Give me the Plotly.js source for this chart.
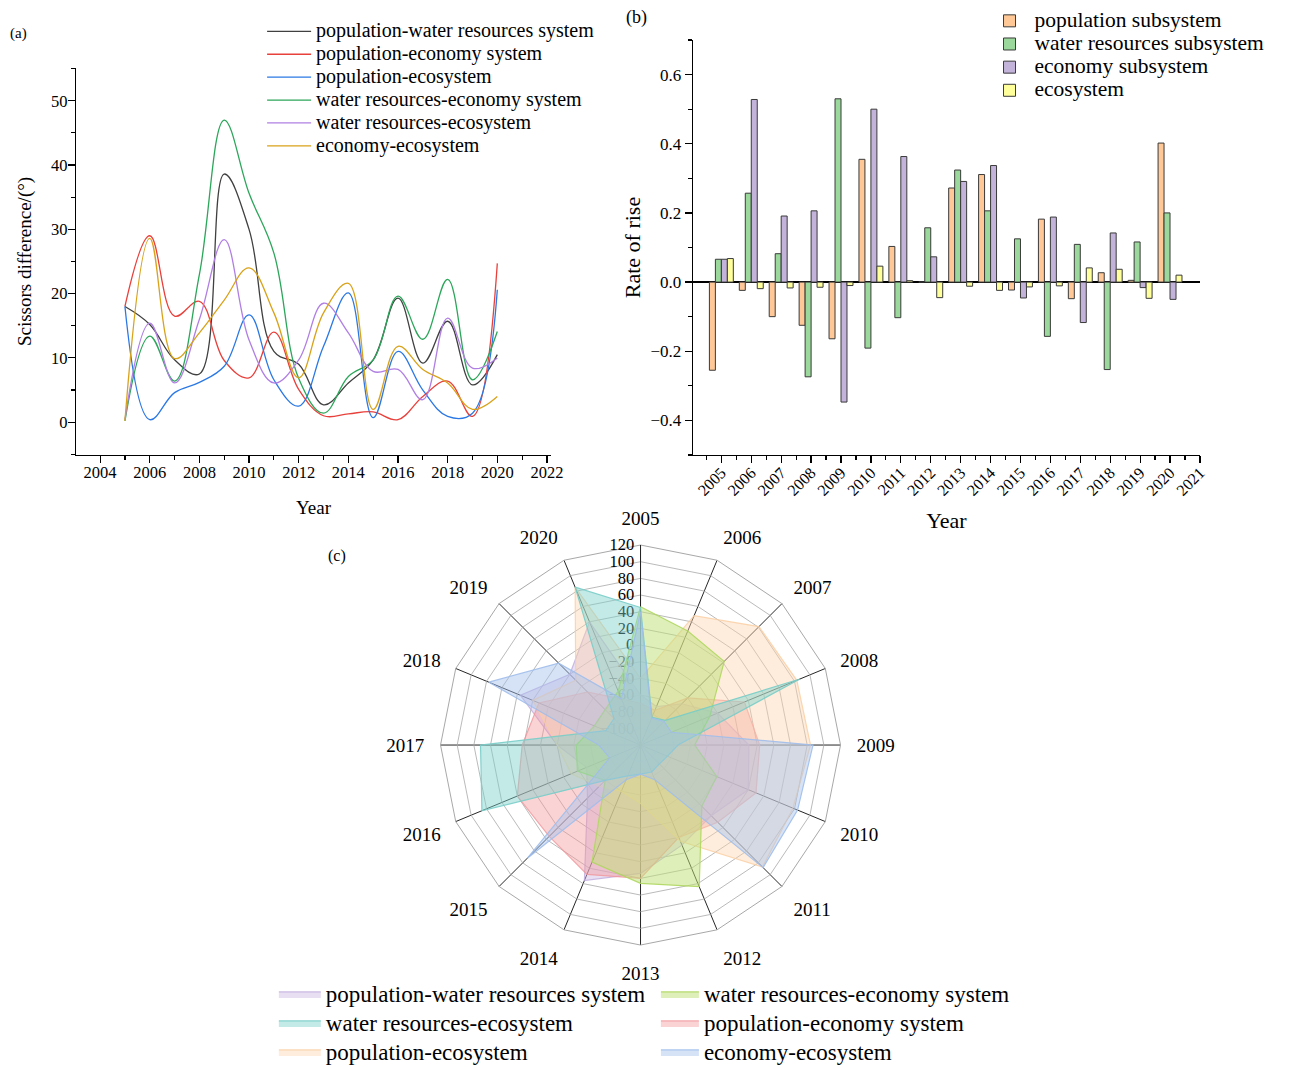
<!DOCTYPE html>
<html>
<head>
<meta charset="utf-8">
<script src="https://cdn.plot.ly/plotly-3.0.1.min.js"></script>
<style>html,body{margin:0;padding:0;background:#fff;}#chart{width:1304px;height:1067px;}</style>
</head>
<body>
<div id="chart"></div>
<script>
// ---------- Panel (a): scissors difference ----------
const years = [2005,2006,2007,2008,2009,2010,2011,2012,2013,2014,2015,2016,2017,2018,2019,2020];
const lineNames = ["population-water resources system","population-economy system","population-ecosystem","water resources-economy system","water resources-ecosystem","economy-ecosystem"];
const popWater  = [18.0,15.2,9.7,7.5,38.6,30.0,11.0,9.0,2.7,6.1,9.7,19.3,9.2,15.7,5.8,10.5];
const popEcon   = [18.0,29.0,16.5,18.8,9.6,6.9,14.0,5.1,1.0,1.3,1.6,0.4,4.0,6.4,0.9,24.7];
const popEco    = [18.0,0.4,4.6,6.2,8.7,16.7,6.6,2.5,11.8,20.1,0.7,11.0,5.0,0.9,1.4,20.6];
const waterEcon = [0.2,13.4,6.4,23.0,47.0,35.6,26.3,6.8,1.4,7.1,9.7,19.6,12.9,22.2,6.6,14.1];
const waterEco  = [0.4,15.4,6.1,16.0,28.4,12.8,6.1,9.7,18.5,13.9,7.9,8.2,3.5,16.2,8.4,10.0];
const econEco   = [0.2,28.6,9.9,13.9,19.0,24.0,17.0,6.9,17.0,21.6,2.0,11.8,8.2,6.1,2.0,4.0];
const lineColors = ["#404040","#e8413c","#2b78e4","#2ca65a","#b07fe3","#d8a21a"];

// ---------- Panel (b): rate of rise ----------
const barYears = years;
const barNames = ["population subsystem","water resources subsystem","economy subsystem","ecosystem"];
const popSub   = [-0.255,-0.024,-0.100,-0.125,-0.164,0.355,0.103,0.000,0.272,0.311,-0.023,0.182,-0.048,0.027,0.005,0.402];
const waterSub = [0.066,0.257,0.082,-0.274,0.530,-0.191,-0.103,0.157,0.324,0.206,0.125,-0.157,0.109,-0.253,0.116,0.200];
const econSub  = [0.066,0.528,0.191,0.206,-0.347,0.500,0.363,0.073,0.291,0.337,-0.046,0.188,-0.117,0.142,-0.016,-0.050];
const ecoSub   = [0.068,-0.019,-0.017,-0.015,-0.010,0.046,0.004,-0.045,-0.012,-0.024,-0.014,-0.011,0.041,0.037,-0.047,0.020];
const barColors = ["#ffc896","#9ad99b","#c3b3da","#ffff9c"];

// ---------- Panel (c): radar ----------
const radarYears = years.map(String);
const rPopWater  = [-60,-70,-50,-20,10,20,0,10,34,56,-30,-50,-20,36,0,40];
const rPopEcon   = [-70,-75,-40,15,23,30,11,0,40,48,35,40,22,12,-30,-60];
const rPopEco    = [-40,48,81,83,84,78,87,5,-50,-60,-50,-30,-20,20,-10,85];
const rWaterEcon = [46,28,22,-30,-55,-21,-16,64,46,32,-60,-38,-43,-60,-60,-50];
const rWaterEco  = [45,-84,-78,87,-75,-85,-88,-85,-85,-80,-60,86,72,-75,-75,85];
const rEconEco   = [40,-85,-80,-80,87,84,88,-75,-85,-75,72,-80,-70,77,19,-60];
const radarColors = {
  popWater:  ["rgba(205,185,228,0.45)","rgba(190,170,220,0.8)"],
  popEcon:   ["rgba(242,150,155,0.42)","rgba(240,150,155,0.8)"],
  popEco:    ["rgba(252,212,172,0.42)","rgba(250,205,160,0.8)"],
  waterEcon: ["rgba(192,224,118,0.50)","rgba(175,215,95,0.9)"],
  waterEco:  ["rgba(125,208,204,0.45)","rgba(120,205,200,0.9)"],
  econEco:   ["rgba(165,192,236,0.45)","rgba(160,190,235,0.9)"]
};

const FONT = "Liberation Serif, Times New Roman, serif";
const traces = [];

// lines
[popWater,popEcon,popEco,waterEcon,waterEco,econEco].forEach((vals,i)=>{
  traces.push({
    type:"scatter", mode:"lines", x:years, y:vals, xaxis:"x", yaxis:"y",
    name:'<span style="font-size:20px">'+lineNames[i]+'</span>',
    line:{color:lineColors[i], width:1.3, shape:"spline", smoothing:1.1},
    legend:"legend", hoverinfo:"x+y"
  });
});

// bars
[popSub,waterSub,econSub,ecoSub].forEach((vals,i)=>{
  traces.push({
    type:"bar", x:barYears, y:vals, xaxis:"x2", yaxis:"y2",
    name:'<span style="font-size:21.5px">'+barNames[i]+'</span>',
    marker:{color:barColors[i], line:{color:"#3a3a3a", width:1}},
    legend:"legend2"
  });
});

// radar
function closed(a){ return a.concat([a[0]]); }
const radarSeries = [
  {key:"popWater",  vals:rPopWater,  name:"population-water resources system", leg:"legend3", rank:1},
  {key:"popEcon",   vals:rPopEcon,   name:"population-economy system",         leg:"legend4", rank:2},
  {key:"popEco",    vals:rPopEco,    name:"population-ecosystem",              leg:"legend3", rank:3},
  {key:"waterEcon", vals:rWaterEcon, name:"water resources-economy system",    leg:"legend4", rank:1},
  {key:"waterEco",  vals:rWaterEco,  name:"water resources-ecosystem",         leg:"legend3", rank:2},
  {key:"econEco",   vals:rEconEco,   name:"economy-ecosystem",                 leg:"legend4", rank:3}
];
radarSeries.forEach(s=>{
  traces.push({
    type:"scatterpolar", subplot:"polar", mode:"lines", fill:"toself",
    r:closed(s.vals), theta:closed(radarYears),
    name:'<span style="font-size:23px">'+s.name+'</span>',
    fillcolor:radarColors[s.key][0],
    line:{color:radarColors[s.key][1], width:1.2},
    legend:s.leg, legendrank:s.rank
  });
});

const minorB = [];
for (let v = 2004.5; v < 2021; v += 1) minorB.push(v);

const layout = {
  width:1304, height:1067,
  margin:{l:0,r:0,t:0,b:0, autoexpand:false},
  paper_bgcolor:"#fff", plot_bgcolor:"rgba(0,0,0,0)",
  font:{family:FONT, color:"#000", size:16},
  showlegend:true,
  barmode:"group", bargap:0.2, bargroupgap:0,
  xaxis:{
    domain:[0.0583,0.4225], anchor:"y", range:[2003.03,2022.16],
    tickmode:"linear", tick0:2004, dtick:2,
    ticks:"outside", ticklen:7, tickcolor:"#000", tickwidth:1.2,
    minor:{dtick:1, tick0:2004, ticks:"outside", ticklen:4, tickcolor:"#000"},
    showline:true, linecolor:"#000", linewidth:1.2, showgrid:false, zeroline:false,
    tickfont:{size:16.5, family:FONT}, ticklabelstandoff:-5,
    title:{text:"Year", font:{size:19, family:FONT}, standoff:19}
  },
  yaxis:{
    domain:[0.5736,0.9363], anchor:"x", range:[-5.1,55.1],
    tickmode:"linear", tick0:0, dtick:10,
    ticks:"outside", ticklen:7, tickcolor:"#000", tickwidth:1.2,
    minor:{dtick:5, tick0:0, ticks:"outside", ticklen:4, tickcolor:"#000"},
    showline:true, linecolor:"#000", linewidth:1.2, showgrid:false, zeroline:false,
    tickfont:{size:16.5, family:FONT}, ticklabelstandoff:-3,
    title:{text:"Scissors difference/(°)", font:{size:19, family:FONT}, standoff:14}
  },
  xaxis2:{
    domain:[0.5314,0.9202], anchor:"y2", range:[2004.05,2021],
    tickmode:"linear", tick0:2005, dtick:1, tickangle:-45,
    ticks:"outside", ticklen:7, tickcolor:"#000", tickwidth:1.2,
    minor:{tickvals:minorB, ticks:"outside", ticklen:4, tickcolor:"#000"},
    showline:true, linecolor:"#000", linewidth:1.2, showgrid:false, zeroline:false,
    tickfont:{size:16, family:FONT}, ticklabelstandoff:-6,
    title:{text:"Year", font:{size:22, family:FONT}, standoff:14}
  },
  yaxis2:{
    domain:[0.5736,0.9625], anchor:"x2", range:[-0.5,0.7],
    tickmode:"linear", tick0:0, dtick:0.2, tickformat:".1f",
    ticks:"outside", ticklen:7, tickcolor:"#000", tickwidth:1.2,
    minor:{dtick:0.1, tick0:0, ticks:"outside", ticklen:4, tickcolor:"#000"},
    showline:true, linecolor:"#000", linewidth:1.2, showgrid:false,
    zeroline:true, zerolinecolor:"#000", zerolinewidth:1.3,
    tickfont:{size:17, family:FONT},
    title:{text:"Rate of rise", font:{size:22, family:FONT}, standoff:3}
  },
  polar:{
    domain:{x:[0.3378,0.6446], y:[0.1143,0.4892]},
    bgcolor:"#fff", gridshape:"linear",
    angularaxis:{
      type:"category", direction:"clockwise", rotation:90,
      gridcolor:"#262626", gridwidth:1, linecolor:"#a8a8a8", linewidth:1,
      ticks:"outside", ticklen:12, tickcolor:"rgba(0,0,0,0)",
      tickfont:{size:19, family:FONT}, layer:"below traces"
    },
    radialaxis:{
      range:[-120,120], tickmode:"array",
      tickvals:[-100,-80,-60,-40,-20,0,20,40,60,80,100,120],
      angle:90, tickangle:90, side:"counterclockwise",
      gridcolor:"#a8a8a8", gridwidth:0.8,
      showline:true, linecolor:"#262626", linewidth:1,
      ticks:"", tickfont:{size:16.5, family:FONT}, layer:"below traces"
    }
  },
  legend:{x:0.201, y:0.986, xanchor:"left", yanchor:"top", bgcolor:"rgba(0,0,0,0)",
          font:{size:15.3, family:FONT}, itemwidth:44, tracegroupgap:0},
  legend2:{x:0.755, y:0.996, xanchor:"left", yanchor:"top", bgcolor:"rgba(0,0,0,0)",
          font:{size:15.5, family:FONT}, itemwidth:40, tracegroupgap:0},
  legend3:{x:0.210, y:0.0868, xanchor:"left", yanchor:"top", bgcolor:"rgba(0,0,0,0)",
          font:{size:20, family:FONT}, itemwidth:42, tracegroupgap:0},
  legend4:{x:0.503, y:0.0868, xanchor:"left", yanchor:"top", bgcolor:"rgba(0,0,0,0)",
          font:{size:20, family:FONT}, itemwidth:38, tracegroupgap:0},
  annotations:[
    {text:"(a)", x:18/1304, y:1-33/1067, xref:"paper", yref:"paper", xanchor:"center", yanchor:"middle", showarrow:false, font:{size:15, family:FONT}},
    {text:"(b)", x:636/1304, y:1-18/1067, xref:"paper", yref:"paper", xanchor:"center", yanchor:"middle", showarrow:false, font:{size:18, family:FONT}},
    {text:"(c)", x:337/1304, y:1-556/1067, xref:"paper", yref:"paper", xanchor:"center", yanchor:"middle", showarrow:false, font:{size:16, family:FONT}}
  ]
};

Plotly.newPlot("chart", traces, layout, {displayModeBar:false, staticPlot:true});
</script>
</body>
</html>
